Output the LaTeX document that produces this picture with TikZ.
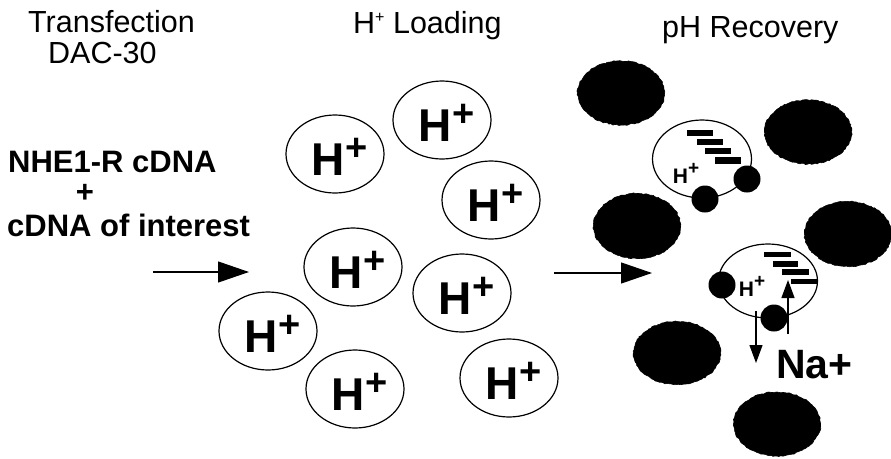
\documentclass[tikz,border=0pt]{standalone}
\usepackage{fontspec}
\setmainfont{Liberation Sans}
\usetikzlibrary{arrows.meta, shapes.geometric, decorations.pathmorphing}
\newcommand{\bigproton}{\raisebox{-21pt}[0pt][0pt]{\makebox[0pt][c]{\hspace{9pt}\fontsize{46}{46}\selectfont\bfseries H\kern1pt\raisebox{15pt}{\fontsize{38}{38}\selectfont +}}}}
\newcommand{\smallproton}{\raisebox{-7.5pt}[0pt][0pt]{\makebox[0pt][c]{\fontsize{21}{21}\selectfont\bfseries H\raisebox{9pt}{\fontsize{19}{19}\selectfont +}}}}
\tikzset{
	title/.style={anchor=base west, inner sep=0pt, font=\fontsize{30.5}{30.5}\selectfont},
	bold title/.style={anchor=base west, inner sep=0pt, font=\fontsize{31}{31}\selectfont\bfseries},
	cell/.style={draw, ellipse, line width=1.2pt, inner sep=0pt, outer sep=0pt, minimum width=98pt, minimum height=78pt},
	blob/.style={fill=black, draw=black, line width=0.6pt, decorate, decoration={random steps, segment length=2pt, amplitude=0.6pt}},
	pump/.style={circle, fill=black, inner sep=0pt, outer sep=0pt, minimum size=27pt},
	big arrow/.style={line width=1.2pt, -{Triangle[length=31pt, width=21pt]}},
	small arrow/.style={line width=1.2pt, -{Triangle[length=18pt, width=13pt]}},
}
\begin{document}
\begin{tikzpicture}[x=1pt, y=-1pt]
	\useasboundingbox (0,0) rectangle (891,458);
	
	% titres
	\node[title] (transfection) at (28,32) {Transfection};
	\node[title] (dac) at (48,63) {DAC-30};
	\node[title] (loading) at (353,33) {H\raisebox{11pt}{\fontsize{16}{16}\selectfont +} Loading};
	\node[title] (recovery) at (662,37) {pH Recovery};
	
	\node[bold title] (nhe) at (8,172) {NHE1-R cDNA};
	\node[bold title, anchor=base] (plus) at (85,202) {+};
	\node[bold title] (interest) at (7,236) {cDNA of interest};
	
	% fleches
	\coordinate (a1) at (153,272);
	\coordinate (a2) at (249,272);
	\coordinate (b1) at (554,273);
	\coordinate (b2) at (652,273);
	\draw[big arrow] (a1) -- (a2);
	\draw[big arrow] (b1) -- (b2);
	
	% cellules chargees
	\node[cell] (c1) at (335,154) {\bigproton};
	\node[cell] (c2) at (442,120) {\bigproton};
	\node[cell] (c3) at (491,200) {\bigproton};
	\node[cell] (c4) at (353,267) {\bigproton};
	\node[cell] (c5) at (462,293) {\bigproton};
	\node[cell] (c6) at (268,331) {\bigproton};
	\node[cell] (c7) at (355,389) {\bigproton};
	\node[cell] (c8) at (509,378) {\bigproton};
	
	% cellules mortes
	\pgfmathsetseed{7}
	\draw[blob] (621,93) ellipse (43.5 and 32);
	\draw[blob] (808,132) ellipse (43.5 and 32);
	\draw[blob] (637,226) ellipse (43.5 and 32.5);
	\draw[blob] (848,234) ellipse (43.5 and 32.5);
	\draw[blob] (677,353) ellipse (43.5 and 31.5);
	\draw[blob] (777,424) ellipse (43.5 and 32);
	
	% cellule du haut
	\node[cell, minimum width=99pt] (u) at (702,159) {};
	\node[pump] (p1) at (705,199) {};
	\node[pump] (p2) at (747,179) {};
	\fill (687,130) rectangle (713,136);
	\fill (697,139) rectangle (723,145);
	\fill (705,148) rectangle (731,154);
	\fill (715,157) rectangle (741,164);
	\node[inner sep=0pt] (hu) at (686,175.5) {\smallproton};
	
	% cellule du bas
	\node[cell, minimum width=99pt, minimum height=74pt] (l) at (768,281) {};
	\node[pump] (p3) at (722,285) {};
	\node[pump] (p4) at (774,318) {};
	\fill (764,252) rectangle (791,257);
	\fill (773,261) rectangle (798,267);
	\fill (782,269) rectangle (809,275);
	\fill (791,279) rectangle (817,284);
	\node[inner sep=0pt] (hl) at (752,288.5) {\smallproton};
	
	\coordinate (d1) at (756,311);
	\coordinate (d2) at (756,363);
	\coordinate (e1) at (788,334);
	\coordinate (e2) at (788,280);
	\draw[small arrow] (d1) -- (d2);
	\draw[small arrow] (e1) -- (e2);
	\node[anchor=base west, inner sep=0pt, font=\fontsize{41}{41}\selectfont\bfseries] (na) at (776,378) {Na+};
\end{tikzpicture}
\end{document}
